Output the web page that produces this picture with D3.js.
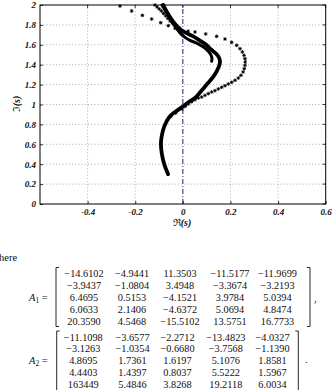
<!DOCTYPE html>
<html>
<head>
<meta charset="utf-8">
<script src="https://cdn.jsdelivr.net/npm/d3@7"></script>
<style>
  body { margin: 0; background: #fff; }
  svg { display: block; }
</style>
</head>
<body>
<div id="my_dataviz"></div>
<script>
// ---- data ----
// x tick labels and y tick values
const xTicks = [-0.4, -0.2, 0, 0.2, 0.4, 0.6];
const xGrid = [-0.4, -0.2, 0.2, 0.4];
const yTicks = [0, 0.2, 0.4, 0.6, 0.8, 1, 1.2, 1.4, 1.6, 1.8, 2];

// thick branch (dense markers), [Re, Im]
const outerBranch = [
  [-0.062, 0.30], [-0.078, 0.40], [-0.088, 0.50], [-0.092, 0.60], [-0.089, 0.68],
  [-0.078, 0.78], [-0.056, 0.877], [-0.03, 0.93], [0, 0.98], [0.028, 1.03],
  [0.051, 1.065], [0.075, 1.13], [0.1, 1.2], [0.125, 1.27], [0.142, 1.334],
  [0.154, 1.40], [0.156, 1.434], [0.152, 1.47], [0.14, 1.51], [0.12, 1.55],
  [0.098, 1.60], [0.07, 1.645], [0.04, 1.69], [0.009, 1.725], [-0.015, 1.765],
  [-0.04, 1.83], [-0.062, 1.91], [-0.082, 2.0]
];

// second thick branch, ends at about (0.12, 1.43)
const innerBranch = [
  [0.121, 1.434], [0.122, 1.47], [0.115, 1.51], [0.093, 1.568], [0.06, 1.615],
  [0.03, 1.645], [0.009, 1.675], [-0.01, 1.715], [-0.025, 1.76], [-0.045, 1.83],
  [-0.065, 1.91], [-0.088, 2.0]
];

// asterisk branch
const starBranch = [
  [-0.05, 0.88], [-0.03, 0.915], [-0.004, 0.955], [0.009, 0.98], [0.023, 1.005],
  [0.037, 1.028], [0.051, 1.048], [0.065, 1.065], [0.079, 1.075], [0.093, 1.092],
  [0.107, 1.109], [0.121, 1.126], [0.135, 1.139], [0.149, 1.156], [0.163, 1.173],
  [0.177, 1.189], [0.191, 1.206], [0.205, 1.223], [0.219, 1.243], [0.233, 1.266],
  [0.244, 1.293], [0.253, 1.327], [0.258, 1.360], [0.261, 1.394], [0.262, 1.427],
  [0.261, 1.460], [0.257, 1.494], [0.250, 1.528], [0.240, 1.561], [0.226, 1.595],
  [0.205, 1.625], [0.177, 1.658], [0.142, 1.685], [0.096, 1.709], [0.051, 1.729],
  [0.022, 1.737], [-0.005, 1.742], [-0.033, 1.766], [-0.061, 1.792], [-0.093, 1.822],
  [-0.131, 1.859], [-0.170, 1.896], [-0.215, 1.94], [-0.264, 1.99]
];

// dense asterisks along the top of the thick branches
const starTopStrand = [
  [-0.117, 2.0], [-0.108, 1.98], [-0.099, 1.96], [-0.09, 1.94], [-0.081, 1.915],
  [-0.072, 1.89], [-0.063, 1.865], [-0.054, 1.84], [-0.045, 1.82], [-0.036, 1.8],
  [-0.027, 1.785], [-0.018, 1.77]
];

// matrices under the figure
const A1Rows = [
  ["\u221214.6102", "\u22124.9441", "11.3503", "\u221211.5177", "\u221211.9699"],
  ["\u22123.9437", "\u22121.0804", "3.4948", "\u22123.3674", "\u22123.2193"],
  ["6.4695", "0.5153", "\u22124.1521", "3.9784", "5.0394"],
  ["6.0633", "2.1406", "\u22124.6372", "5.0694", "4.8474"],
  ["20.3590", "4.5468", "\u221215.5102", "13.5751", "16.7733"]
];
const A2Rows = [
  ["\u221211.1098", "\u22123.6577", "\u22122.2712", "\u221213.4823", "\u22124.0327"],
  ["\u22123.1263", "\u22121.0354", "\u22120.6680", "\u22123.7568", "\u22121.1390"],
  ["4.8695", "1.7361", "1.6197", "5.1076", "1.8581"],
  ["4.4403", "1.4397", "0.8037", "5.5222", "1.5967"],
  ["163449", "5.4846", "3.8268", "19.2118", "6.0034"]
];

// ---- layout ----
const W = 332, H = 390;
const plot = { left: 40, right: 325.7, top: 5, bottom: 204 };
const tickFont = "'Liberation Serif', 'Times New Roman', serif";
const texFont = "'Liberation Serif', 'DejaVu Serif', serif";

const svg = d3.select("#my_dataviz")
  .append("svg")
  .attr("width", W)
  .attr("height", H);

const x = d3.scaleLinear().domain([-0.6, 0.6]).range([plot.left, plot.right]);
const y = d3.scaleLinear().domain([0, 2]).range([plot.bottom, plot.top]);

// dotted grid
svg.append("g").selectAll("line")
  .data(xGrid)
  .join("line")
  .attr("x1", d => x(d)).attr("x2", d => x(d))
  .attr("y1", plot.top).attr("y2", plot.bottom)
  .attr("stroke", "#9a9a9a").attr("stroke-width", 0.8)
  .attr("stroke-dasharray", "1,2.2");

svg.append("g").selectAll("line")
  .data(yTicks.filter(d => d > 0 && d < 2))
  .join("line")
  .attr("x1", plot.left).attr("x2", plot.right)
  .attr("y1", d => y(d)).attr("y2", d => y(d))
  .attr("stroke", "#9a9a9a").attr("stroke-width", 0.8)
  .attr("stroke-dasharray", "1,2.2");

// axes (ticks point inward)
const fmt = d => String(+d.toFixed(1));

const xAxis = svg.append("g")
  .attr("transform", `translate(0, ${plot.bottom})`)
  .call(d3.axisBottom(x).tickValues(xTicks).tickSize(-3).tickPadding(5).tickFormat(fmt));
const yAxis = svg.append("g")
  .attr("transform", `translate(${plot.left}, 0)`)
  .call(d3.axisLeft(y).tickValues(yTicks).tickSize(-3).tickPadding(4).tickFormat(fmt));

[xAxis, yAxis].forEach(g => {
  g.select(".domain").remove();
  g.selectAll("line").attr("stroke", "#000").attr("stroke-width", 0.8);
  g.selectAll("text")
    .attr("fill", "#111")
    .style("font-family", tickFont)
    .style("font-size", "9px")
    .style("font-weight", "bold")
    .style("font-style", "italic");
});

// ticks on top and right too
svg.append("g").selectAll("line")
  .data(xTicks)
  .join("line")
  .attr("x1", d => x(d)).attr("x2", d => x(d))
  .attr("y1", plot.top).attr("y2", plot.top + 3)
  .attr("stroke", "#000").attr("stroke-width", 0.8);
svg.append("g").selectAll("line")
  .data(yTicks)
  .join("line")
  .attr("x1", plot.right - 3).attr("x2", plot.right)
  .attr("y1", d => y(d)).attr("y2", d => y(d))
  .attr("stroke", "#000").attr("stroke-width", 0.8);

// frame
svg.append("rect")
  .attr("x", plot.left).attr("y", plot.top)
  .attr("width", plot.right - plot.left).attr("height", plot.bottom - plot.top)
  .attr("fill", "none").attr("stroke", "#000").attr("stroke-width", 1);

// dash-dot line at Re = 0
svg.append("line")
  .attr("x1", x(0)).attr("x2", x(0))
  .attr("y1", y(0)).attr("y2", y(2))
  .attr("stroke", "#1d1d78").attr("stroke-width", 1)
  .attr("stroke-dasharray", "5,2,1,2");

// thick branches
const line = d3.line()
  .x(d => x(d[0]))
  .y(d => y(d[1]))
  .curve(d3.curveCatmullRom);

svg.append("path")
  .attr("d", line(outerBranch))
  .attr("fill", "none").attr("stroke", "#000")
  .attr("stroke-width", 3.8).attr("stroke-linecap", "round");

svg.append("path")
  .attr("d", line(innerBranch))
  .attr("fill", "none").attr("stroke", "#000")
  .attr("stroke-width", 3).attr("stroke-linecap", "round");

// asterisk markers
const r = 1.8, q = r * 0.7;
const starPath = `M${-r},0L${r},0M0,${-r}L0,${r}M${-q},${-q}L${q},${q}M${-q},${q}L${q},${-q}`;

svg.append("g").selectAll("path")
  .data(starBranch.concat(starTopStrand))
  .join("path")
  .attr("transform", d => `translate(${x(d[0])},${y(d[1])})`)
  .attr("d", starPath)
  .attr("fill", "none").attr("stroke", "#000").attr("stroke-width", 0.95);

// axis titles
const xt = svg.append("text")
  .attr("x", 182).attr("y", 225.5)
  .attr("text-anchor", "middle")
  .style("font-family", tickFont).style("font-size", "10px").attr("fill", "#111");
xt.append("tspan").text("\u211C");
xt.append("tspan").text("(s)").style("font-weight", "bold").style("font-style", "italic");

const yt = svg.append("text")
  .attr("transform", "translate(20, 104) rotate(-90)")
  .attr("text-anchor", "middle")
  .style("font-family", tickFont).style("font-size", "10px").attr("fill", "#111");
yt.append("tspan").text("\u2111");
yt.append("tspan").text("(s)").style("font-weight", "bold").style("font-style", "italic");

// ---- text below the figure ----
svg.append("text")
  .attr("x", -1).attr("y", 261)
  .style("font-family", texFont).style("font-size", "10.5px").attr("fill", "#111")
  .text("here");

function matrixLabel(sub, yc) {
  const t = svg.append("text")
    .attr("x", 29).attr("y", yc + 3.6)
    .style("font-family", texFont).style("font-size", "10.5px").attr("fill", "#111");
  t.append("tspan").text("A").style("font-style", "italic");
  t.append("tspan").text(sub).style("font-size", "7.5px").attr("dy", 2.2);
  t.append("tspan").text(" =").attr("dy", -2.2);
}

function bracket(xPos, y0, y1, dir) {
  svg.append("path")
    .attr("d", `M${xPos + 3 * dir},${y0}L${xPos},${y0}L${xPos},${y1}L${xPos + 3 * dir},${y1}`)
    .attr("fill", "none").attr("stroke", "#111").attr("stroke-width", 0.9);
}

function drawMatrix(rows, colX, rowY0, rowStep) {
  const g = svg.append("g")
    .style("font-family", texFont).style("font-size", "10.3px").attr("fill", "#111")
    .attr("text-anchor", "middle");
  rows.forEach((row, i) => {
    g.selectAll(null)
      .data(row)
      .join("text")
      .attr("x", (d, j) => colX[j])
      .attr("y", rowY0 + i * rowStep + 3.6)
      .text(d => d);
  });
}

// A1
matrixLabel("1", 297);
bracket(56, 267.5, 326.5, 1);
bracket(310, 267.5, 326.5, -1);
drawMatrix(A1Rows, [84, 132, 180, 230, 277.5], 273, 12);
svg.append("text").attr("x", 314).attr("y", 302)
  .style("font-family", texFont).style("font-size", "10.5px").attr("fill", "#111").text(",");

// A2
matrixLabel("2", 360.5);
bracket(56.7, 331, 395, 1);
bracket(298.3, 331, 395, -1);
drawMatrix(A2Rows, [83.3, 132.5, 177.5, 225.8, 272.5], 337, 11.8);
svg.append("text").attr("x", 305).attr("y", 363)
  .style("font-family", texFont).style("font-size", "10.5px").attr("fill", "#111").text(".");
</script>
</body>
</html>
